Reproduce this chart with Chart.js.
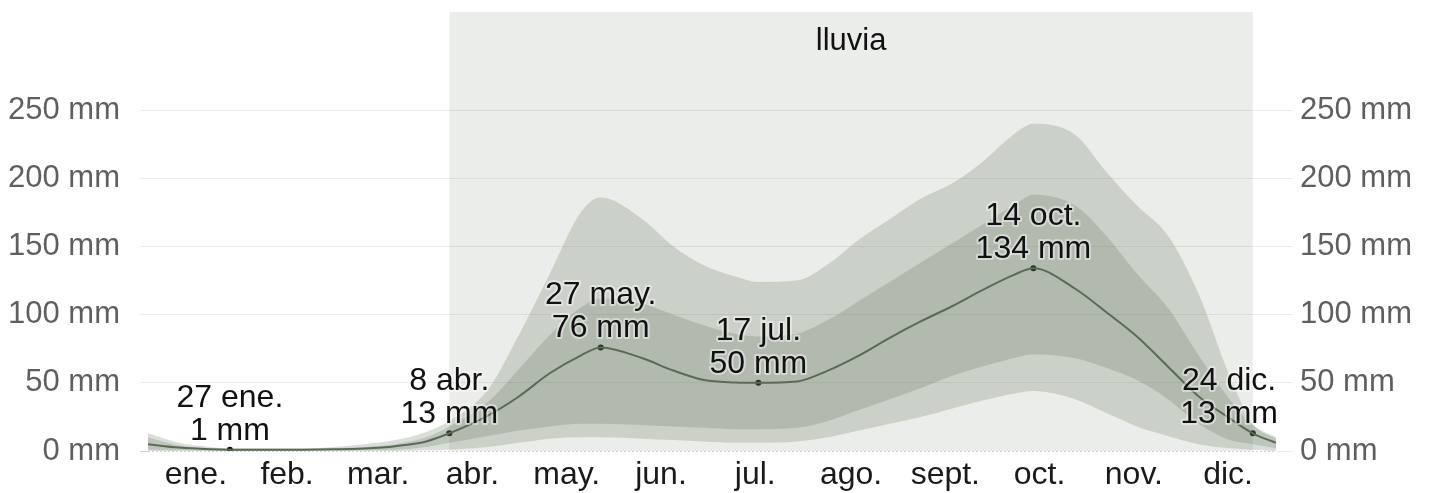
<!DOCTYPE html>
<html>
<head>
<meta charset="utf-8">
<script src="https://cdn.jsdelivr.net/npm/chart.js@4.4.1/dist/chart.umd.min.js"></script>
<style>
    html, body { margin: 0; padding: 0; background: #fff; }
    #wrap { width: 1432px; height: 493px; }
</style>
</head>
<body>
<div id="wrap"><canvas id="rainChart" width="1432" height="493"></canvas></div>
<script>
// Daily rainfall (31-day sliding total), day of year on x
const days   = [0, 10, 20, 26.5, 40, 50, 60, 70, 80, 90, 97.5, 110, 120, 130, 140, 146.5, 160, 170, 180, 190, 197.5, 210, 220, 230, 240, 250, 260, 270, 280, 286.5, 300, 310, 320, 330, 340, 350, 357.5, 365];
const median = [5, 2.5, 1.3, 1, 1, 1, 1.2, 1.8, 3.5, 7, 13, 26, 40, 57, 70, 76, 68, 59, 52, 50.3, 50, 51, 59, 70, 83, 95, 106, 118, 129, 134, 119, 102, 84, 62, 40, 24, 13, 6];
const p10    = [0, 0, 0, 0, 0, 0, 0, 0, 0, 0.5, 1, 3, 6, 9, 10, 10, 9, 8, 7, 6, 6, 7, 10, 15, 20, 25, 31, 37, 42, 44, 38, 28, 18, 11, 5, 2, 1, 0];
const p25    = [1, 0.5, 0.3, 0.2, 0.2, 0.2, 0.3, 0.5, 1, 3, 6, 11, 15, 18, 20, 20, 19, 18, 17, 16, 16, 17, 22, 30, 38, 46, 55, 62, 68, 71, 68, 61, 52, 38, 20, 8, 5, 2];
const p75    = [10, 4, 2, 1.5, 1.5, 1.5, 2, 3, 5, 10, 18, 36, 60, 85, 105, 112, 108, 100, 92, 86, 84, 86, 96, 110, 124, 138, 152, 166, 180, 188, 180, 158, 130, 105, 70, 38, 19, 10];
const p90    = [13, 6, 3, 2, 2, 2, 3, 5, 8, 14, 22, 45, 85, 130, 175, 186, 170, 150, 136, 128, 124, 125, 137, 155, 170, 185, 196, 212, 232, 240, 232, 205, 180, 158, 115, 55, 20, 9];

// Month labels sit at the middle of each month
const monthMids   = [15.5, 45, 74.5, 105, 135.5, 166, 196.5, 227.5, 258, 288.5, 319, 349.5];
const monthLabels = ['ene.', 'feb.', 'mar.', 'abr.', 'may.', 'jun.', 'jul.', 'ago.', 'sept.', 'oct.', 'nov.', 'dic.'];
const yTicks = [0, 50, 100, 150, 200, 250];

// Rainy season and labelled points
const seasonDays  = [97.5, 357.5];
const seasonLabel = 'lluvia';
const annDays   = [26.5, 97.5, 146.5, 197.5, 286.5, 357.5];
const annValues = [1, 13, 76, 50, 134, 13];
const annDates  = ['27 ene.', '8 abr.', '27 may.', '17 jul.', '14 oct.', '24 dic.'];

const FONT = '"Liberation Sans", Arial, sans-serif';
const bandColor = 'rgba(100, 115, 95, 0.24)';

const toPoints = arr => days.map((d, i) => ({ x: d, y: arr[i] }));

const seasonPlugin = {
    id: 'season',
    beforeDraw(chart) {
        const { ctx, chartArea, scales } = chart;
        const x0 = scales.x.getPixelForValue(seasonDays[0]);
        const x1 = scales.x.getPixelForValue(seasonDays[1]);
        ctx.save();
        ctx.fillStyle = '#ebedea';
        ctx.fillRect(x0, chartArea.top, x1 - x0, chartArea.bottom - chartArea.top);
        ctx.fillStyle = '#111';
        ctx.font = '31px ' + FONT;
        ctx.textAlign = 'center';
        ctx.textBaseline = 'alphabetic';
        ctx.fillText(seasonLabel, (x0 + x1) / 2, chartArea.top + 38);
        ctx.restore();
    }
};

const labelPlugin = {
    id: 'pointLabels',
    afterDatasetsDraw(chart) {
        const { ctx, chartArea, scales } = chart;
        ctx.save();
        ctx.font = '32px ' + FONT;
        ctx.textAlign = 'center';
        ctx.textBaseline = 'alphabetic';
        ctx.lineJoin = 'round';
        annDays.forEach((d, i) => {
            const px = scales.x.getPixelForValue(d);
            const py = scales.y.getPixelForValue(annValues[i]);
            const lines = [annDates[i], annValues[i] + ' mm'];
            const w = Math.max(...lines.map(t => ctx.measureText(t).width));
            let cx = px;
            if (cx + w / 2 > chartArea.right + 2) cx = chartArea.right + 2 - w / 2;
            if (cx - w / 2 < chartArea.left) cx = chartArea.left + w / 2;
            lines.forEach((t, j) => {
                const by = py - 10 - (lines.length - 1 - j) * 33;
                ctx.strokeStyle = 'rgba(255,255,255,0.45)';
                ctx.lineWidth = 4;
                ctx.strokeText(t, cx, by);
                ctx.fillStyle = '#111';
                ctx.fillText(t, cx, by);
            });
        });
        ctx.restore();
    }
};

// y axes: fixed width, no extra label padding so the plot starts right under the top padding
const fitY = width => scale => {
    scale.width = width;
    scale.paddingTop = 0;
    scale.paddingBottom = 0;
};

new Chart(document.getElementById('rainChart'), {
    type: 'line',
    data: {
        datasets: [
            { data: toPoints(p10), borderWidth: 0, pointRadius: 0, fill: false },
            { data: toPoints(p90), borderWidth: 0, pointRadius: 0, fill: '-1', backgroundColor: bandColor },
            { data: toPoints(p25), borderWidth: 0, pointRadius: 0, fill: false },
            { data: toPoints(p75), borderWidth: 0, pointRadius: 0, fill: '-1', backgroundColor: bandColor },
            { data: toPoints(median), borderColor: '#56634f', borderWidth: 2, pointRadius: 0, fill: false },
            {
                data: annDays.map((d, i) => ({ x: d, y: annValues[i] })),
                showLine: false, pointRadius: 3, pointBackgroundColor: '#000', pointBorderWidth: 0
            }
        ]
    },
    options: {
        responsive: false,
        devicePixelRatio: 1,
        animation: false,
        layout: { padding: { top: 12, left: 0, right: 0, bottom: 0 } },
        elements: { line: { cubicInterpolationMode: 'monotone' } },
        plugins: {
            legend: { display: false },
            tooltip: { enabled: false }
        },
        scales: {
            x: {
                type: 'linear',
                min: 0,
                max: 365,
                afterBuildTicks: scale => { scale.ticks = monthMids.map(v => ({ value: v })); },
                afterFit: scale => {
                    scale.height = 42;
                    scale.paddingLeft = 0;
                    scale.paddingRight = 0;
                },
                grid: { display: false },
                border: { display: false },
                ticks: {
                    autoSkip: false,
                    maxRotation: 0,
                    padding: -3,
                    color: '#1a1a1a',
                    font: { family: FONT, size: 32 },
                    callback: (value, index) => monthLabels[index]
                }
            },
            y: {
                position: 'left',
                min: 0,
                max: 322,
                afterBuildTicks: scale => { scale.ticks = yTicks.map(v => ({ value: v })); },
                afterFit: fitY(148),
                grid: {
                    color: ctx => (ctx.tick && ctx.tick.value === 0 ? 'rgba(0,0,0,0.18)' : 'rgba(0,0,0,0.07)'),
                    lineWidth: 1,
                    tickLength: 8
                },
                border: { display: false, dash: ctx => (ctx.tick && ctx.tick.value === 0 ? [2, 2] : []) },
                ticks: {
                    padding: 20,
                    color: '#5f5f5f',
                    font: { family: FONT, size: 31 },
                    callback: v => v + ' mm'
                }
            },
            y2: {
                position: 'right',
                min: 0,
                max: 322,
                afterBuildTicks: scale => { scale.ticks = yTicks.map(v => ({ value: v })); },
                afterFit: fitY(156),
                grid: { drawOnChartArea: false, color: 'rgba(0,0,0,0.07)', tickLength: 17 },
                border: { display: false },
                ticks: {
                    padding: 7,
                    color: '#5f5f5f',
                    font: { family: FONT, size: 31 },
                    callback: v => v + ' mm'
                }
            }
        }
    },
    plugins: [seasonPlugin, labelPlugin]
});
</script>
</body>
</html>
